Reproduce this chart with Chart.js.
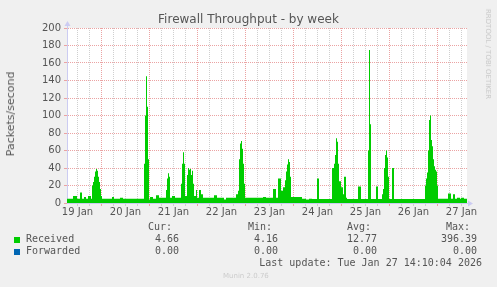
<!DOCTYPE html>
<html>
<head>
<meta charset="utf-8">
<script src="https://cdn.jsdelivr.net/npm/chart.js@4"></script>
<style>
  body { margin: 0; background: #f0f0f0; }
  #wrap { position: relative; width: 497px; height: 287px; overflow: hidden; }
  #chart { position: absolute; left: 0; top: 0; }
  .txt { position: absolute; white-space: pre; color: #555; font-family: "DejaVu Sans Mono", monospace; font-size: 10px; line-height: 12px; }
  .swatch { position: absolute; width: 6px; height: 6px; }
</style>
</head>
<body>
<div id="wrap">
  <canvas id="chart" width="497" height="287"></canvas>
</div>
<script>
// time axis in half-hour slots from the left edge of the plot (400 slots = 8.3 days)
const halfHours = [0, 6, 10, 13, 15, 17, 19, 21, 24, 25, 26, 27, 28, 29, 30, 31, 32, 33, 34, 35,
  45, 47, 53, 56, 77, 78, 79, 80, 81, 82, 83, 86, 89, 92, 99, 100, 101, 102, 103, 105, 108,
  114, 115, 116, 117, 118, 120, 121, 122, 123, 124, 125, 126, 127, 129, 130, 132, 134, 136,
  147, 150, 157, 159, 169, 171, 172, 173, 174, 175, 176, 177, 178, 196, 199, 206, 209, 211,
  214, 216, 218, 219, 220, 221, 222, 223, 224, 235, 239, 242, 245, 250, 252, 265, 267, 268,
  269, 270, 271, 272, 274, 276, 277, 279, 280, 291, 294, 301, 302, 303, 304, 309, 311, 315,
  316, 317, 318, 319, 320, 321, 322, 325, 327, 358, 359, 360, 361, 362, 363, 364, 365, 366,
  367, 368, 369, 370, 371, 381, 384, 386, 388, 390, 393, 394, 397, 400];
const received = [5, 8, 5, 12, 5, 7, 5, 8, 5, 20, 24, 30, 36, 39, 37, 30, 24, 16, 8, 5,
  7, 5, 6, 5, 45, 100, 145, 110, 50, 4, 7, 5, 9, 6, 15, 28, 34, 30, 6, 8, 6,
  22, 45, 58, 45, 8, 32, 40, 38, 39, 32, 37, 22, 8, 15, 6, 15, 10, 6,
  9, 6, 4, 6, 10, 14, 50, 68, 71, 62, 45, 22, 6, 7, 6, 16, 6, 28,
  14, 18, 26, 36, 44, 50, 47, 30, 7, 5, 4, 5, 4.5, 28, 4.5, 40, 45, 55,
  74, 70, 45, 25, 18, 10, 30, 6, 4.5, 19, 4.5, 60, 175, 90, 4.5, 19, 4.5, 10,
  16, 40, 55, 60, 52, 30, 4.5, 40, 4.5, 20, 28, 35, 60, 95, 100, 72, 65, 50,
  42, 38, 36, 20, 5, 11, 5, 10, 5, 6, 5, 6, 5, 5];
const forwardedTimes = [0, 400];
const forwarded = [0, 0];

const dayLabels = ['19 Jan', '20 Jan', '21 Jan', '22 Jan', '23 Jan', '24 Jan', '25 Jan', '26 Jan', '27 Jan'];
const firstNoon = 10.5; // slot of 19 Jan 12:00

const seriesNames = ['Received', 'Forwarded'];
const seriesColors = ['#00cc00', '#0066b3'];
const curValues = [4.66, 0.00];
const minValues = [4.16, 0.00];
const avgValues = [12.77, 0.00];
const maxValues = [396.39, 0.00];

Chart.defaults.font.family = '"DejaVu Sans", sans-serif';
Chart.defaults.font.size = 10;
Chart.defaults.color = '#555';

const majorGrid = '#eba3a3';
const minorGrid = '#cfcfcf';
const axisColor = '#ccccf2';

// ticks every 6 hours, midnight lines red
const xTicks = [];
for (let v = firstNoon; v <= 400; v += 12) xTicks.push(v);
const isNoon = (v) => Math.abs(((v - firstNoon) % 48)) < 0.01;
const isMidnight = (v) => Math.abs(((v - firstNoon) % 48) - 24) < 0.01;

const plotBackground = {
  id: 'plotBackground',
  beforeDraw(chart) {
    const { ctx, chartArea: a } = chart;
    ctx.save();
    ctx.fillStyle = '#ffffff';
    ctx.fillRect(a.left, a.top, a.right - a.left, a.bottom - a.top);
    ctx.restore();
  },
  afterDraw(chart) {
    const { ctx, chartArea: a } = chart;
    ctx.save();
    ctx.fillStyle = axisColor;
    ctx.strokeStyle = axisColor;
    ctx.lineWidth = 1;
    // y axis arrow
    ctx.beginPath();
    ctx.moveTo(a.left + 0.5, a.top);
    ctx.lineTo(a.left + 0.5, a.top - 4);
    ctx.stroke();
    ctx.beginPath();
    ctx.moveTo(a.left - 2.5, a.top - 2);
    ctx.lineTo(a.left + 3.5, a.top - 2);
    ctx.lineTo(a.left + 0.5, a.top - 7);
    ctx.closePath();
    ctx.fill();
    // x axis arrow
    ctx.beginPath();
    ctx.moveTo(a.right, a.bottom + 0.5);
    ctx.lineTo(a.right + 3, a.bottom + 0.5);
    ctx.stroke();
    ctx.beginPath();
    ctx.moveTo(a.right + 1, a.bottom - 2.5);
    ctx.lineTo(a.right + 1, a.bottom + 3.5);
    ctx.lineTo(a.right + 6, a.bottom + 0.5);
    ctx.closePath();
    ctx.fill();
    ctx.restore();
  }
};

new Chart(document.getElementById('chart'), {
  type: 'line',
  data: {
    datasets: [
      {
        label: seriesNames[0],
        data: halfHours.map((x, i) => ({ x: x, y: received[i] })),
        stepped: true,
        fill: 'origin',
        backgroundColor: seriesColors[0],
        borderColor: seriesColors[0],
        borderWidth: 0,
        pointRadius: 0
      },
      {
        label: seriesNames[1],
        data: forwardedTimes.map((x, i) => ({ x: x, y: forwarded[i] })),
        stepped: true,
        fill: 'origin',
        backgroundColor: seriesColors[1],
        borderColor: seriesColors[1],
        borderWidth: 0,
        pointRadius: 0
      }
    ]
  },
  options: {
    responsive: false,
    animation: false,
    layout: { padding: { left: 0, top: 28, right: 30, bottom: 64 } },
    plugins: {
      legend: { display: false },
      title: { display: false },
      tooltip: { enabled: false }
    },
    scales: {
      x: {
        type: 'linear',
        min: 0,
        max: 400,
        afterBuildTicks: (scale) => {
          scale.ticks = xTicks.map((v) => ({ value: v }));
        },
        afterFit: (scale) => { scale.height = 20; },
        ticks: {
          autoSkip: false,
          maxRotation: 0,
          padding: 0,
          color: '#555',
          callback: (v) => isNoon(v) ? dayLabels[Math.round((v - firstNoon) / 48)] : ''
        },
        grid: {
          color: (c) => isMidnight(c.tick.value) ? majorGrid : minorGrid,
          tickColor: (c) => isMidnight(c.tick.value) ? majorGrid : minorGrid,
          tickLength: 3
        },
        border: { color: axisColor, dash: [1, 1] }
      },
      y: {
        min: 0,
        max: 200,
        afterFit: (scale) => { scale.width = 67; },
        ticks: {
          stepSize: 10,
          padding: 3,
          color: '#555',
          callback: (v) => v % 20 === 0 ? String(v) : ''
        },
        grid: {
          color: (c) => c.tick.value % 20 === 0 ? majorGrid : minorGrid,
          tickColor: (c) => c.tick.value % 20 === 0 ? majorGrid : minorGrid,
          tickLength: 3
        },
        border: { color: axisColor, dash: [1, 1] }
      }
    }
  },
  plugins: [plotBackground]
});

// texts around the plot
const wrap = document.getElementById('wrap');
function addText(str, css) {
  const el = document.createElement('div');
  el.className = 'txt';
  el.textContent = str;
  Object.assign(el.style, css);
  wrap.appendChild(el);
  return el;
}
function addRight(str, right, top) {
  return addText(str, { right: (497 - right) + 'px', top: top + 'px' });
}

addText('Firewall Throughput - by week', {
  left: '0px', width: '497px', textAlign: 'center', top: '11px',
  fontFamily: '"DejaVu Sans", sans-serif', fontSize: '12px', lineHeight: '16px'
});
addText('Packets/second', {
  left: '11px', top: '114px', fontFamily: '"DejaVu Sans", sans-serif', fontSize: '11px',
  lineHeight: '12px', transform: 'translate(-50%, -50%) rotate(-90deg)'
});
addText('RRDTOOL / TOBI OETIKER', {
  left: '488px', top: '54px', fontFamily: '"DejaVu Sans", sans-serif', fontSize: '7px',
  lineHeight: '8px', color: '#c8c8c8', transform: 'translate(-50%, -50%) rotate(90deg)'
});

// legend table
const headers = ['Cur:', 'Min:', 'Avg:', 'Max:'];
const headerRight = [172, 272, 371, 470];
const valueRight = [179, 278, 377, 477];
headers.forEach((h, i) => addRight(h, headerRight[i], 221));
const columns = [curValues, minValues, avgValues, maxValues];
seriesNames.forEach((name, r) => {
  const top = 233 + r * 12;
  const sw = document.createElement('div');
  sw.className = 'swatch';
  Object.assign(sw.style, { left: '14px', top: (top + 4) + 'px', background: seriesColors[r] });
  wrap.appendChild(sw);
  addText(name, { left: '26px', top: top + 'px' });
  columns.forEach((col, c) => addRight(col[r].toFixed(2), valueRight[c], top));
});
addRight('Last update: Tue Jan 27 14:10:04 2026', 482, 257);
addText('Munin 2.0.76', {
  left: '223px', top: '272px', fontFamily: '"DejaVu Sans", sans-serif', fontSize: '7px',
  lineHeight: '9px', color: '#cccccc'
});
</script>
</body>
</html>
